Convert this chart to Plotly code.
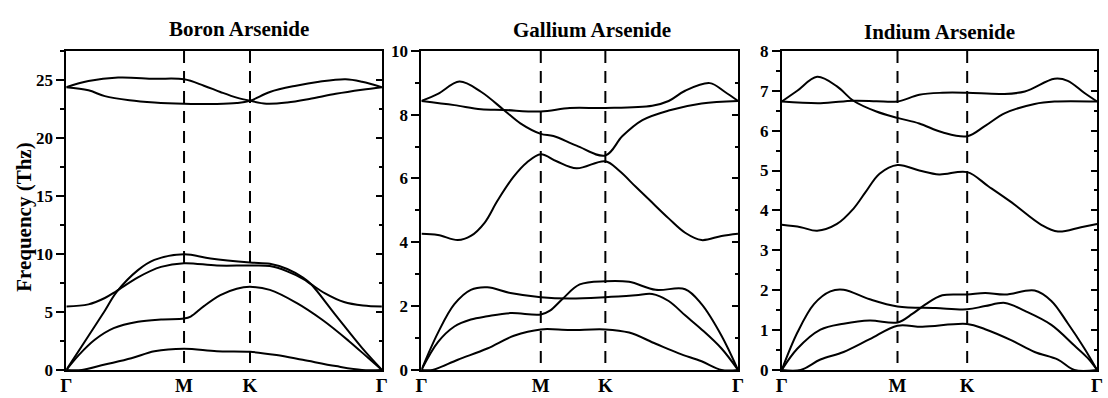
import plotly.graph_objects as go

# ---------------- data (path coordinate: Γ=0 ... Γ=1) ----------------
point_labels = ["Γ", "M", "K", "Γ"]

# Boron Arsenide
ba_ticks = [0, 0.373, 0.582, 1]
ba_x1 = [0, 0.049, 0.122, 0.206, 0.279, 0.373, 0.477, 0.582, 0.666, 0.749, 0.854, 0.937, 1]
ba_y1 = [0, 0, 0.46, 1.0, 1.61, 1.83, 1.61, 1.56, 1.28, 0.87, 0.33, 0, 0]
ba_x2 = [0, 0.04, 0.09, 0.15, 0.227, 0.30, 0.373, 0.394, 0.436, 0.488, 0.54, 0.582, 0.645, 0.728, 0.812, 0.895, 0.958, 1]
ba_y2 = [0, 1.3, 2.6, 3.6, 4.15, 4.35, 4.43, 4.6, 5.5, 6.45, 7.0, 7.16, 6.9, 5.8, 4.3, 2.5, 1.0, 0]
ba_x3 = [0, 0.07, 0.122, 0.159, 0.227, 0.279, 0.373, 0.457, 0.582, 0.645, 0.70, 0.75, 0.775, 0.854, 0.937, 1]
ba_y3 = [0, 2.92, 5.1, 6.7, 8.6, 9.48, 9.97, 9.6, 9.26, 9.15, 8.7, 7.95, 7.4, 4.7, 1.9, 0]
ba_x4 = [0, 0.07, 0.122, 0.159, 0.227, 0.30, 0.373, 0.477, 0.582, 0.645, 0.70, 0.75, 0.775, 0.82, 0.88, 0.94, 1]
ba_y4 = [5.46, 5.65, 6.2, 6.8, 7.98, 8.88, 9.2, 9.0, 9.0, 8.95, 8.5, 7.85, 7.4, 6.6, 5.85, 5.55, 5.46]
ba_x5 = [0, 0.07, 0.122, 0.20, 0.279, 0.373, 0.477, 0.54, 0.582, 0.645, 0.728, 0.801, 0.885, 0.937, 1]
ba_y5 = [24.37, 24.1, 23.6, 23.25, 23.06, 22.95, 22.92, 23.0, 23.2, 23.96, 24.5, 24.84, 25.05, 24.84, 24.37]
ba_x6 = [0, 0.07, 0.164, 0.279, 0.373, 0.436, 0.488, 0.54, 0.582, 0.634, 0.70, 0.77, 0.854, 0.937, 1]
ba_y6 = [24.37, 24.9, 25.2, 25.1, 25.05, 24.5, 23.96, 23.47, 23.2, 22.95, 23.05, 23.35, 23.8, 24.15, 24.37]

# Gallium Arsenide
ga_ticks = [0, 0.377, 0.581, 1]
ga_x1 = [0, 0.035, 0.115, 0.208, 0.292, 0.377, 0.469, 0.581, 0.656, 0.740, 0.813, 0.885, 0.948, 1]
ga_y1 = [0, 0, 0.32, 0.67, 1.07, 1.27, 1.25, 1.27, 1.17, 0.82, 0.52, 0.27, 0, 0]
ga_x2 = [0, 0.052, 0.104, 0.156, 0.208, 0.281, 0.377, 0.406, 0.448, 0.5, 0.581, 0.656, 0.740, 0.833, 0.885, 0.948, 1]
ga_y2 = [0, 0.87, 1.36, 1.58, 1.68, 1.78, 1.74, 1.86, 2.25, 2.68, 2.78, 2.76, 2.51, 2.53, 2.06, 1.07, 0]
ga_x3 = [0, 0.052, 0.104, 0.156, 0.208, 0.281, 0.377, 0.469, 0.581, 0.677, 0.729, 0.781, 0.833, 0.885, 0.948, 1]
ga_y3 = [0, 1.16, 2.06, 2.51, 2.59, 2.41, 2.28, 2.24, 2.28, 2.34, 2.38, 2.16, 1.71, 1.27, 0.67, 0]
ga_x4 = [0, 0.052, 0.115, 0.156, 0.200, 0.240, 0.290, 0.333, 0.377, 0.427, 0.490, 0.581, 0.625, 0.677, 0.719, 0.781, 0.833, 0.885, 0.948, 1]
ga_y4 = [4.27, 4.23, 4.07, 4.2, 4.62, 5.3, 6.04, 6.5, 6.76, 6.54, 6.32, 6.54, 6.24, 5.74, 5.34, 4.75, 4.3, 4.07, 4.2, 4.27]
ga_x5 = [0, 0.104, 0.188, 0.26, 0.377, 0.469, 0.581, 0.729, 0.781, 0.833, 0.911, 0.958, 1]
ga_y5 = [8.43, 8.3, 8.17, 8.15, 8.10, 8.21, 8.21, 8.28, 8.43, 8.75, 8.99, 8.72, 8.43]
ga_x6 = [0, 0.052, 0.120, 0.188, 0.26, 0.3125, 0.377, 0.417, 0.49, 0.581, 0.635, 0.698, 0.781, 0.885, 1]
ga_y6 = [8.43, 8.65, 9.04, 8.72, 8.15, 7.73, 7.40, 7.33, 7.03, 6.72, 7.33, 7.83, 8.13, 8.35, 8.43]

# Indium Arsenide
ia_ticks = [0, 0.367, 0.588, 1]
ia_x1 = [0, 0.06, 0.1225, 0.196, 0.279, 0.367, 0.446, 0.588, 0.645, 0.729, 0.802, 0.876, 0.928, 1]
ia_y1 = [0, 0, 0.26, 0.45, 0.77, 1.11, 1.08, 1.15, 1.02, 0.74, 0.45, 0.26, 0, 0]
ia_x2 = [0, 0.049, 0.1225, 0.196, 0.279, 0.367, 0.415, 0.457, 0.509, 0.588, 0.645, 0.708, 0.802, 0.855, 0.907, 0.959, 1]
ia_y2 = [0, 0.53, 1.01, 1.16, 1.24, 1.19, 1.41, 1.65, 1.87, 1.89, 1.93, 1.89, 1.99, 1.73, 1.17, 0.55, 0]
ia_x3 = [0, 0.049, 0.102, 0.154, 0.196, 0.279, 0.367, 0.488, 0.588, 0.645, 0.708, 0.771, 0.855, 0.928, 0.970, 1]
ia_y3 = [0, 0.93, 1.65, 1.97, 2.01, 1.77, 1.59, 1.55, 1.52, 1.60, 1.68, 1.48, 1.13, 0.61, 0.3, 0]
ia_x4 = [0, 0.06, 0.112, 0.175, 0.227, 0.265, 0.310, 0.367, 0.436, 0.499, 0.588, 0.656, 0.729, 0.823, 0.876, 0.949, 1]
ia_y4 = [3.64, 3.58, 3.49, 3.66, 4.04, 4.45, 4.92, 5.14, 5.0, 4.90, 4.96, 4.6, 4.2, 3.64, 3.47, 3.58, 3.66]
ia_x5 = [0, 0.1225, 0.227, 0.30, 0.367, 0.436, 0.509, 0.588, 0.70, 0.771, 0.865, 0.907, 0.959, 1]
ia_y5 = [6.73, 6.69, 6.75, 6.74, 6.73, 6.9, 6.95, 6.95, 6.92, 6.98, 7.3, 7.25, 6.95, 6.73]
ia_x6 = [0, 0.049, 0.112, 0.175, 0.227, 0.300, 0.367, 0.436, 0.509, 0.588, 0.645, 0.708, 0.802, 0.865, 1]
ia_y6 = [6.73, 7.0, 7.35, 7.11, 6.75, 6.48, 6.32, 6.18, 5.96, 5.86, 6.12, 6.44, 6.67, 6.73, 6.73]

titles = ["Boron Arsenide", "Gallium Arsenide", "Indium Arsenide"]
y_max = [27.5, 10, 8]
y_dtick = [5, 2, 1]
y_minor = [2.5, 1, 0.5]

panels = [
    (ba_ticks, [(ba_x1, ba_y1), (ba_x2, ba_y2), (ba_x3, ba_y3), (ba_x4, ba_y4), (ba_x5, ba_y5), (ba_x6, ba_y6)]),
    (ga_ticks, [(ga_x1, ga_y1), (ga_x2, ga_y2), (ga_x3, ga_y3), (ga_x4, ga_y4), (ga_x5, ga_y5), (ga_x6, ga_y6)]),
    (ia_ticks, [(ia_x1, ia_y1), (ia_x2, ia_y2), (ia_x3, ia_y3), (ia_x4, ia_y4), (ia_x5, ia_y5), (ia_x6, ia_y6)]),
]

# ---------------- figure ----------------
W, H = 1108, 398
FONT = "Liberation Serif"
x_domains = [(61 / W, 380 / W), (420 / W, 740 / W), (784.3 / W, 1103 / W)]
y_domain = ((H - 379) / H, (H - 44) / H)
title_pos = [(236, 20.5), (592, 22.5), (944, 24)]

fig = go.Figure()
layout = dict(
    width=W, height=H, margin=dict(l=0, r=0, t=0, b=0),
    paper_bgcolor="white", plot_bgcolor="white", showlegend=False,
    annotations=[],
)

for i, (ticks, bands) in enumerate(panels):
    n = i + 1
    xa = "x" if n == 1 else f"x{n}"
    ya = "y" if n == 1 else f"y{n}"
    yo = f"y{n + 3}"
    for bx, by in bands:
        fig.add_trace(go.Scatter(x=bx, y=by, mode="lines", xaxis=xa, yaxis=ya,
                                 line=dict(color="black", width=2, shape="spline", smoothing=1.0),
                                 hoverinfo="skip"))
    for t in ticks[1:-1]:
        fig.add_trace(go.Scatter(x=[t, t], y=[y_max[i], 0], mode="lines", xaxis=xa, yaxis=yo,
                                 line=dict(color="black", width=2, dash="12px,8px"),
                                 hoverinfo="skip"))
    layout[f"xaxis{n if n > 1 else ''}"] = dict(
        domain=list(x_domains[i]), range=[0, 1], anchor=ya,
        showline=True, linewidth=2, linecolor="black", mirror=True,
        ticks="", tickvals=ticks, ticktext=point_labels, ticklabelstandoff=-3,
        tickfont=dict(family=FONT, size=19, color="black", weight="bold"),
        showgrid=False, zeroline=False, fixedrange=True,
    )
    layout[f"yaxis{n if n > 1 else ''}"] = dict(
        domain=list(y_domain), range=[0, y_max[i]], anchor=xa,
        showline=True, linewidth=2, linecolor="black", mirror=True,
        ticks="outside", ticklen=8, tickwidth=2, tickcolor="black",
        tick0=0, dtick=y_dtick[i],
        minor=dict(ticks="outside", ticklen=4, tickwidth=2, tickcolor="black", dtick=y_minor[i], tick0=0),
        tickfont=dict(family=FONT, size=17, color="black", weight="bold"),
        showgrid=False, zeroline=False, fixedrange=True,
    )
    layout[f"yaxis{n + 3}"] = dict(
        overlaying=ya, side="right", anchor=xa, range=[0, y_max[i]],
        showline=False, ticks="inside", ticklen=6, tickwidth=2, tickcolor="black",
        tick0=0, dtick=y_dtick[i],
        minor=dict(ticks="inside", ticklen=3, tickwidth=2, tickcolor="black", dtick=y_minor[i], tick0=0),
        showticklabels=False, showgrid=False, zeroline=False, fixedrange=True,
    )
    tx, ty = title_pos[i]
    layout["annotations"].append(dict(
        text=titles[i], x=tx / W, y=(H - ty) / H, xref="paper", yref="paper",
        xanchor="center", yanchor="middle", showarrow=False,
        font=dict(family=FONT, size=21, color="black", weight="bold"),
    ))

layout["annotations"].append(dict(
    text="Frequency (Thz)", x=18 / W, y=(H - 218.5) / H, xref="paper", yref="paper",
    xanchor="center", yanchor="middle", showarrow=False, textangle=-90,
    font=dict(family=FONT, size=21, color="black", weight="bold"),
))

fig.update_layout(**layout)
fig.write_html(
    "out.html",
    config={"displayModeBar": False},
    post_script=("document.documentElement.style.margin='0';document.documentElement.style.padding='0';"
                 "document.documentElement.style.overflow='hidden';"
                 "document.body.style.margin='0';document.body.style.padding='0';"
                 "document.body.style.overflow='hidden';"),
)
